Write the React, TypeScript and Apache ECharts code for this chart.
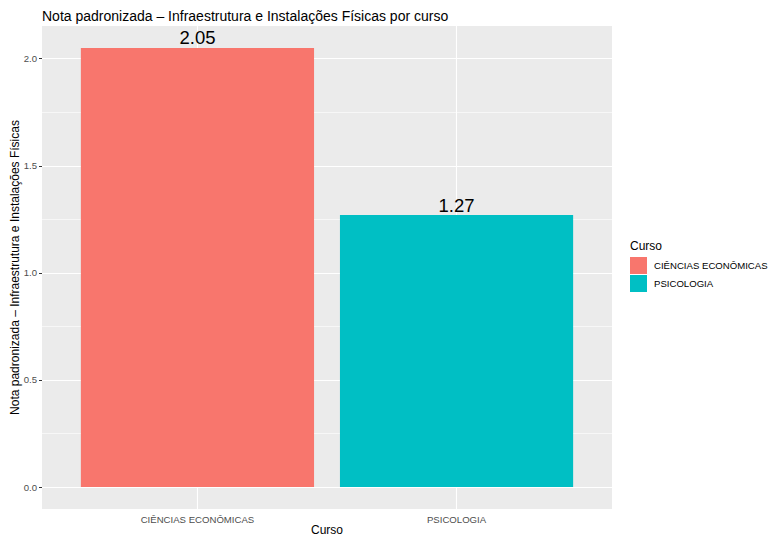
import React, { useEffect, useRef } from "react";
import * as echarts from "echarts";

const categories = ["CIÊNCIAS ECONÔMICAS", "PSICOLOGIA"];
const values = [2.05, 1.27];
const colors = ["#F8766D", "#00BFC4"];
const yTicks = [0, 0.5, 1.0, 1.5, 2.0];
const yMinor = [0.25, 0.75, 1.25, 1.75];
const xTicks = [1, 2];

const FONT = "Liberation Sans, Arial, Helvetica, sans-serif";

export default function App() {
  const ref = useRef<HTMLDivElement>(null);
  useEffect(() => {
    if (!ref.current) return;
    const chart = echarts.init(ref.current, null, { renderer: "svg" });
    const yMax = Math.max(...values);
    const pad = yMax * 0.05;

    const barSeries = categories.map((name, i) => ({
      name,
      type: "custom",
      z: 5,
      itemStyle: { color: colors[i] },
      encode: { x: 0, y: 1 },
      data: [[i + 1, values[i]]],
      renderItem: (params: any, api: any) => {
        const x = api.value(0);
        const y = api.value(1);
        const top = api.coord([x, y]);
        const base = api.coord([x, 0]);
        const w = api.size([0.9, 0])[0];
        return {
          type: "group",
          children: [
            {
              type: "rect",
              shape: { x: top[0] - w / 2, y: top[1], width: w, height: base[1] - top[1] },
              style: { fill: api.visual("color") },
            },
            {
              type: "text",
              x: top[0],
              y: top[1] - 0.5,
              style: {
                text: y.toFixed(2),
                fontSize: 18.5,
                fontFamily: FONT,
                fill: "#000",
                align: "center",
                verticalAlign: "bottom",
              },
            },
          ],
        };
      },
    }));

    const gridSeries = {
      type: "line",
      name: "_grid",
      z: 1,
      data: [[1, 0]],
      showSymbol: false,
      lineStyle: { width: 0 },
      silent: true,
      markLine: {
        silent: true,
        symbol: ["none", "none"],
        label: { show: false },
        animation: false,
        data: [
          ...yMinor.map((v) => ({ yAxis: v, lineStyle: { color: "#FFFFFF", width: 0.6, type: "solid" } })),
          ...yTicks.map((v) => ({ yAxis: v, lineStyle: { color: "#FFFFFF", width: 1.1, type: "solid" } })),
          ...xTicks.map((v) => ({ xAxis: v, lineStyle: { color: "#FFFFFF", width: 1.1, type: "solid" } })),
        ],
      },
    };

    chart.setOption({
      animation: false,
      textStyle: { fontFamily: FONT },
      title: {
        text: "Nota padronizada – Infraestrutura e Instalações Físicas por curso",
        left: 37,
        top: 4,
        textStyle: { fontSize: 14, fontWeight: "normal", color: "#000", fontFamily: FONT },
      },
      grid: {
        left: 42,
        top: 26,
        width: 570,
        height: 483,
        show: true,
        backgroundColor: "#EBEBEB",
        borderWidth: 0,
        containLabel: false,
        outerBoundsMode: "none",
      },
      legend: {
        data: categories,
        orient: "vertical",
        left: 630,
        top: 257,
        padding: 0,
        itemWidth: 17,
        itemHeight: 17,
        itemGap: 1,
        icon: "rect",
        textStyle: { fontSize: 9.6, color: "#000", fontFamily: FONT, padding: [0, 0, 0, 2] },
      },
      graphic: [
        {
          type: "text",
          left: 630,
          top: 240,
          style: { text: "Curso", fontSize: 12, fill: "#000", fontFamily: FONT },
        },
      ],
      xAxis: {
        type: "value",
        min: 0.4,
        max: 2.6,
        name: "Curso",
        nameLocation: "middle",
        nameGap: 15,
        nameMoveOverlap: false,
        nameTextStyle: { fontSize: 12, color: "#000", fontFamily: FONT },
        axisLine: { show: false },
        splitLine: { show: false },
        axisTick: { show: true, customValues: xTicks, length: 3, lineStyle: { color: "#333333" } },
        axisLabel: {
          customValues: xTicks,
          formatter: (v: number) => categories[Math.round(v) - 1] ?? "",
          fontSize: 9.6,
          color: "#4D4D4D",
          margin: 5,
          fontFamily: FONT,
        },
      },
      yAxis: {
        type: "value",
        min: -pad,
        max: yMax + pad,
        name: "Nota padronizada – Infraestrutura e Instalações Físicas",
        nameLocation: "middle",
        nameGap: 21,
        nameMoveOverlap: false,
        nameTextStyle: { fontSize: 12, color: "#000", fontFamily: FONT },
        axisLine: { show: false },
        splitLine: { show: false },
        axisTick: { show: true, customValues: yTicks, length: 3, lineStyle: { color: "#333333" } },
        axisLabel: {
          customValues: yTicks,
          formatter: (v: number) => v.toFixed(1),
          fontSize: 9.6,
          color: "#4D4D4D",
          margin: 5,
          fontFamily: FONT,
        },
      },
      series: [gridSeries, ...barSeries],
    });
    return () => chart.dispose();
  }, []);

  return (
    <div
      ref={ref}
      style={{ position: "fixed", left: 0, top: 0, width: 769, height: 537, background: "#fff" }}
    />
  );
}
